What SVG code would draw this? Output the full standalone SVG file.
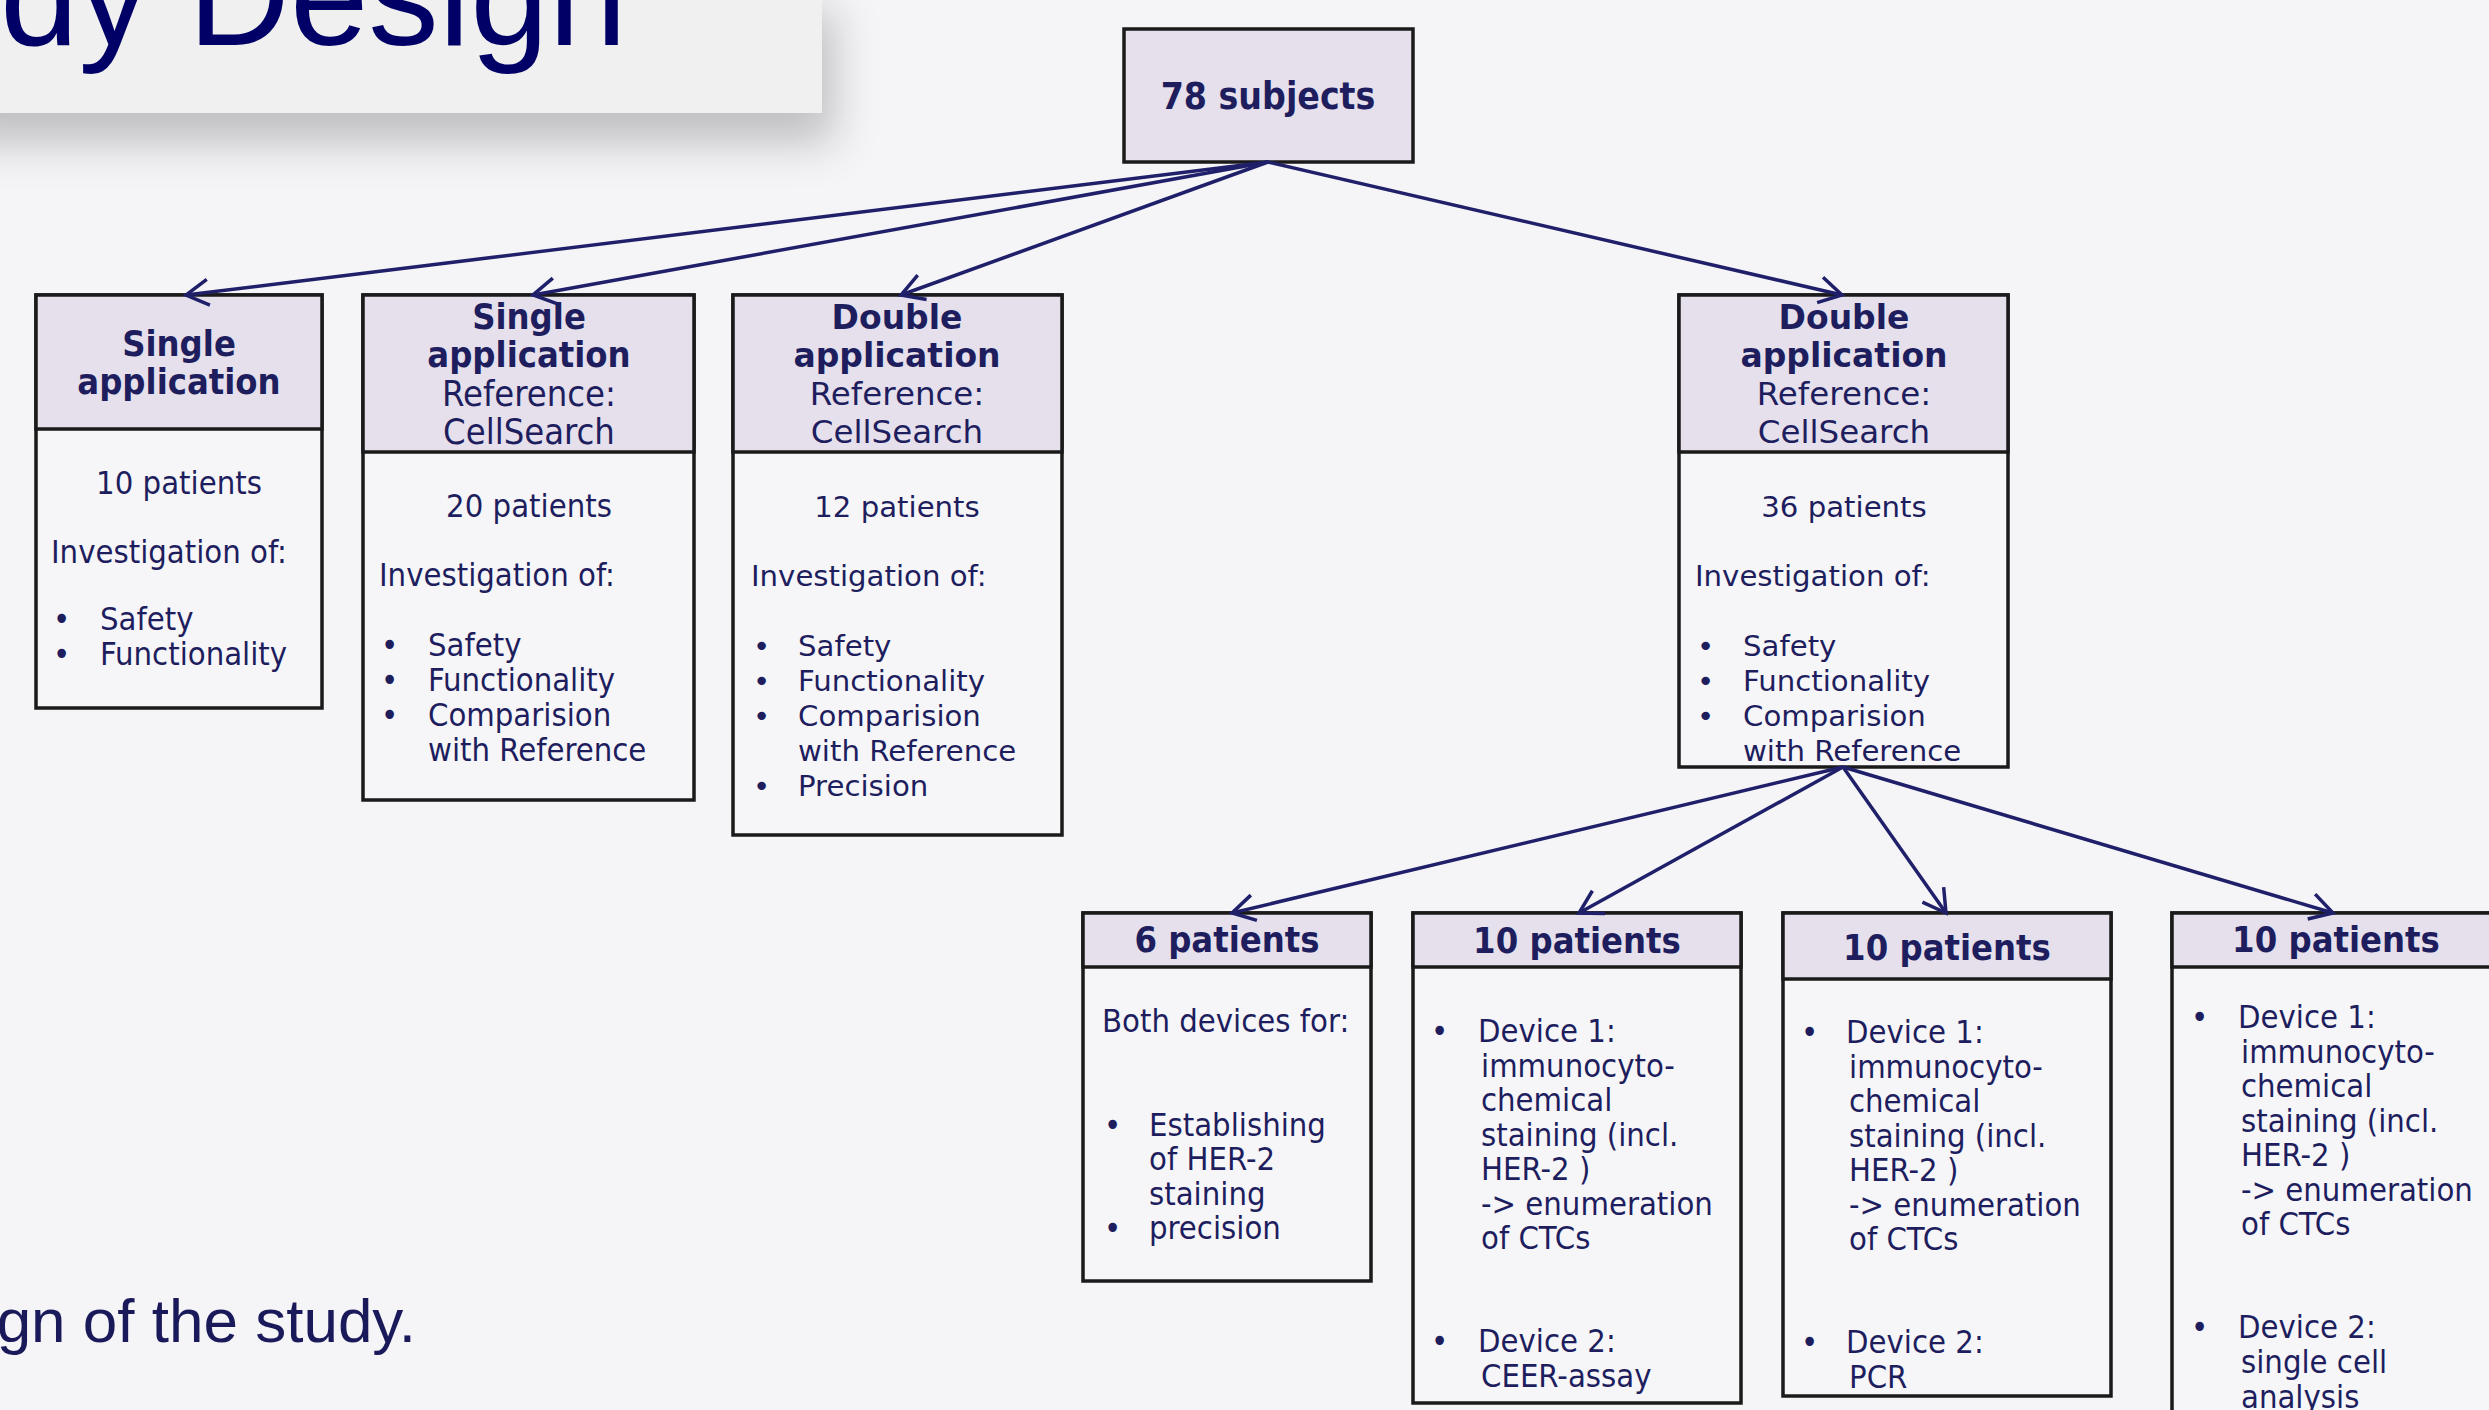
<svg xmlns="http://www.w3.org/2000/svg" width="2489" height="1410" viewBox="0 0 2489 1410">
<defs>
<style>
.bg{fill:#f5f5f8}
.hd{fill:#e5e0ec;stroke:#1a1a1a;stroke-width:3.5}
.bd{fill:#f6f6f9;stroke:#1a1a1a;stroke-width:3.5}
text{fill:#1e1e5e}
.w{font-family:"DejaVu Sans",Verdana,sans-serif}
.c{font-family:"DejaVu Sans Condensed","DejaVu Sans",sans-serif;font-stretch:condensed}
.b{font-weight:bold}
.m{text-anchor:middle}
.hw{font-size:33px}
.hn{font-size:32.5px}
.bw{font-size:29.2px}
.hc{font-size:36px}
.bc{font-size:32.5px}
.bs{font-size:32.5px}
.ln{fill:none;stroke:#20206a;stroke-width:3.5;marker-end:url(#arr)}
</style>
<marker id="arr" viewBox="-28 -16 32 32" refX="0" refY="0" markerWidth="32" markerHeight="32" markerUnits="userSpaceOnUse" orient="auto">
<path d="M-22.5,-13 L0,0 L-22.5,13" fill="none" stroke="#20206a" stroke-width="3.5"/>
</marker>
<filter id="sh" x="-20%" y="-50%" width="150%" height="250%">
<feDropShadow dx="12" dy="30" stdDeviation="22" flood-color="#000" flood-opacity="0.22"/>
</filter>
</defs>
<rect class="bg" x="0" y="0" width="2489" height="1410"/>

<g id="title">
<rect x="-60" y="-20" width="882" height="133" fill="#f0f0f0" filter="url(#sh)"/>
<text x="627" y="45" text-anchor="end" style="font-family:'Liberation Sans',Arial,sans-serif;font-size:141px;fill:#000066">Study Design</text>
</g>

<g id="caption">
<text x="416" y="1342" text-anchor="end" style="font-family:'Liberation Sans',Arial,sans-serif;font-size:62px;fill:#1a1a5a">Design of the study.</text>
</g>

<g id="n-root">
<rect class="hd" x="1124" y="29" width="289" height="133"/>
<text class="c b m" x="1268" y="109" style="font-size:37px">78 subjects</text>
</g>

<g id="n-single1">
<rect class="bd" x="36" y="295" width="286" height="413"/>
<rect class="hd" x="36" y="295" width="286" height="134"/>
<text class="c b m hc" x="179" y="356">Single</text>
<text class="c b m hc" x="179" y="394">application</text>
<text class="c m bc" x="179" y="494">10 patients</text>
<text class="c bc" x="51" y="563">Investigation of:</text>
<text class="c bc" x="53" y="630">•</text><text class="c bc" x="100" y="630">Safety</text>
<text class="c bc" x="53" y="665">•</text><text class="c bc" x="100" y="665">Functionality</text>
</g>

<g id="n-single2">
<rect class="bd" x="363" y="295" width="331" height="505"/>
<rect class="hd" x="363" y="295" width="331" height="157"/>
<text class="c b m hc" x="529" y="329">Single</text>
<text class="c b m hc" x="529" y="367">application</text>
<text class="c m hc" x="529" y="406">Reference:</text>
<text class="c m hc" x="529" y="444">CellSearch</text>
<text class="c m bc" x="529" y="517">20 patients</text>
<text class="c bc" x="379" y="586">Investigation of:</text>
<text class="c bc" x="381" y="656">•</text><text class="c bc" x="428" y="656">Safety</text>
<text class="c bc" x="381" y="691">•</text><text class="c bc" x="428" y="691">Functionality</text>
<text class="c bc" x="381" y="726">•</text><text class="c bc" x="428" y="726">Comparision</text>
<text class="c bc" x="428" y="761">with Reference</text>
</g>

<g id="n-double1">
<rect class="bd" x="733" y="295" width="329" height="540"/>
<rect class="hd" x="733" y="295" width="329" height="157"/>
<text class="w b m hw" x="897" y="329">Double</text>
<text class="w b m hw" x="897" y="367">application</text>
<text class="w m hn" x="897" y="405">Reference:</text>
<text class="w m hn" x="897" y="443">CellSearch</text>
<text class="w m bw" x="897" y="517">12 patients</text>
<text class="w bw" x="751" y="586">Investigation of:</text>
<text class="w bw" x="753" y="656">•</text><text class="w bw" x="798" y="656">Safety</text>
<text class="w bw" x="753" y="691">•</text><text class="w bw" x="798" y="691">Functionality</text>
<text class="w bw" x="753" y="726">•</text><text class="w bw" x="798" y="726">Comparision</text>
<text class="w bw" x="798" y="761">with Reference</text>
<text class="w bw" x="753" y="796">•</text><text class="w bw" x="798" y="796">Precision</text>
</g>

<g id="n-double2">
<rect class="bd" x="1679" y="295" width="329" height="472"/>
<rect class="hd" x="1679" y="295" width="329" height="157"/>
<text class="w b m hw" x="1844" y="329">Double</text>
<text class="w b m hw" x="1844" y="367">application</text>
<text class="w m hn" x="1844" y="405">Reference:</text>
<text class="w m hn" x="1844" y="443">CellSearch</text>
<text class="w m bw" x="1844" y="517">36 patients</text>
<text class="w bw" x="1695" y="586">Investigation of:</text>
<text class="w bw" x="1697" y="656">•</text><text class="w bw" x="1743" y="656">Safety</text>
<text class="w bw" x="1697" y="691">•</text><text class="w bw" x="1743" y="691">Functionality</text>
<text class="w bw" x="1697" y="726">•</text><text class="w bw" x="1743" y="726">Comparision</text>
<text class="w bw" x="1743" y="761">with Reference</text>
</g>

<g id="n-six">
<rect class="bd" x="1083" y="913" width="288" height="368"/>
<rect class="hd" x="1083" y="913" width="288" height="54"/>
<text class="c b m hc" x="1227" y="952">6 patients</text>
<text class="c bs" x="1102" y="1032">Both devices for:</text>
<text class="c bs" x="1104" y="1136">•</text><text class="c bs" x="1149" y="1136">Establishing</text>
<text class="c bs" x="1149" y="1170">of HER-2</text>
<text class="c bs" x="1149" y="1205">staining</text>
<text class="c bs" x="1104" y="1239">•</text><text class="c bs" x="1149" y="1239">precision</text>
</g>

<g id="n-ceer">
<rect class="bd" x="1413" y="913" width="328" height="490"/>
<rect class="hd" x="1413" y="913" width="328" height="54"/>
<text class="c b m hc" x="1577" y="953">10 patients</text>
<text class="c bs" x="1431" y="1042">•</text><text class="c bs" x="1478" y="1042">Device 1:</text>
<text class="c bs" x="1481" y="1077">immunocyto-</text>
<text class="c bs" x="1481" y="1111">chemical</text>
<text class="c bs" x="1481" y="1146">staining (incl.</text>
<text class="c bs" x="1481" y="1180">HER-2 )</text>
<text class="c bs" x="1481" y="1215">-&gt; enumeration</text>
<text class="c bs" x="1481" y="1249">of CTCs</text>
<text class="c bs" x="1431" y="1352">•</text><text class="c bs" x="1478" y="1352">Device 2:</text>
<text class="c bs" x="1481" y="1387">CEER-assay</text>
</g>

<g id="n-pcr">
<rect class="bd" x="1783" y="913" width="328" height="483"/>
<rect class="hd" x="1783" y="913" width="328" height="66"/>
<text class="c b m hc" x="1947" y="960">10 patients</text>
<text class="c bs" x="1801" y="1043">•</text><text class="c bs" x="1846" y="1043">Device 1:</text>
<text class="c bs" x="1849" y="1078">immunocyto-</text>
<text class="c bs" x="1849" y="1112">chemical</text>
<text class="c bs" x="1849" y="1147">staining (incl.</text>
<text class="c bs" x="1849" y="1181">HER-2 )</text>
<text class="c bs" x="1849" y="1216">-&gt; enumeration</text>
<text class="c bs" x="1849" y="1250">of CTCs</text>
<text class="c bs" x="1801" y="1353">•</text><text class="c bs" x="1846" y="1353">Device 2:</text>
<text class="c bs" x="1849" y="1388">PCR</text>
</g>

<g id="n-single-cell">
<rect class="bd" x="2172" y="913" width="328" height="520"/>
<rect class="hd" x="2172" y="913" width="328" height="54"/>
<text class="c b m hc" x="2336" y="952">10 patients</text>
<text class="c bs" x="2191" y="1028">•</text><text class="c bs" x="2238" y="1028">Device 1:</text>
<text class="c bs" x="2241" y="1063">immunocyto-</text>
<text class="c bs" x="2241" y="1097">chemical</text>
<text class="c bs" x="2241" y="1132">staining (incl.</text>
<text class="c bs" x="2241" y="1166">HER-2 )</text>
<text class="c bs" x="2241" y="1201">-&gt; enumeration</text>
<text class="c bs" x="2241" y="1235">of CTCs</text>
<text class="c bs" x="2191" y="1338">•</text><text class="c bs" x="2238" y="1338">Device 2:</text>
<text class="c bs" x="2241" y="1373">single cell</text>
<text class="c bs" x="2241" y="1408">analysis</text>
</g>

<g id="connectors">
<line class="ln" x1="1268" y1="162" x2="186" y2="295"/>
<line class="ln" x1="1268" y1="162" x2="533" y2="295"/>
<line class="ln" x1="1268" y1="162" x2="901" y2="295"/>
<line class="ln" x1="1268" y1="162" x2="1842" y2="295"/>
<line class="ln" x1="1843" y1="767" x2="1232" y2="913"/>
<line class="ln" x1="1843" y1="767" x2="1579" y2="913"/>
<line class="ln" x1="1843" y1="767" x2="1946" y2="913"/>
<line class="ln" x1="1843" y1="767" x2="2333" y2="913"/>
</g>
</svg>
